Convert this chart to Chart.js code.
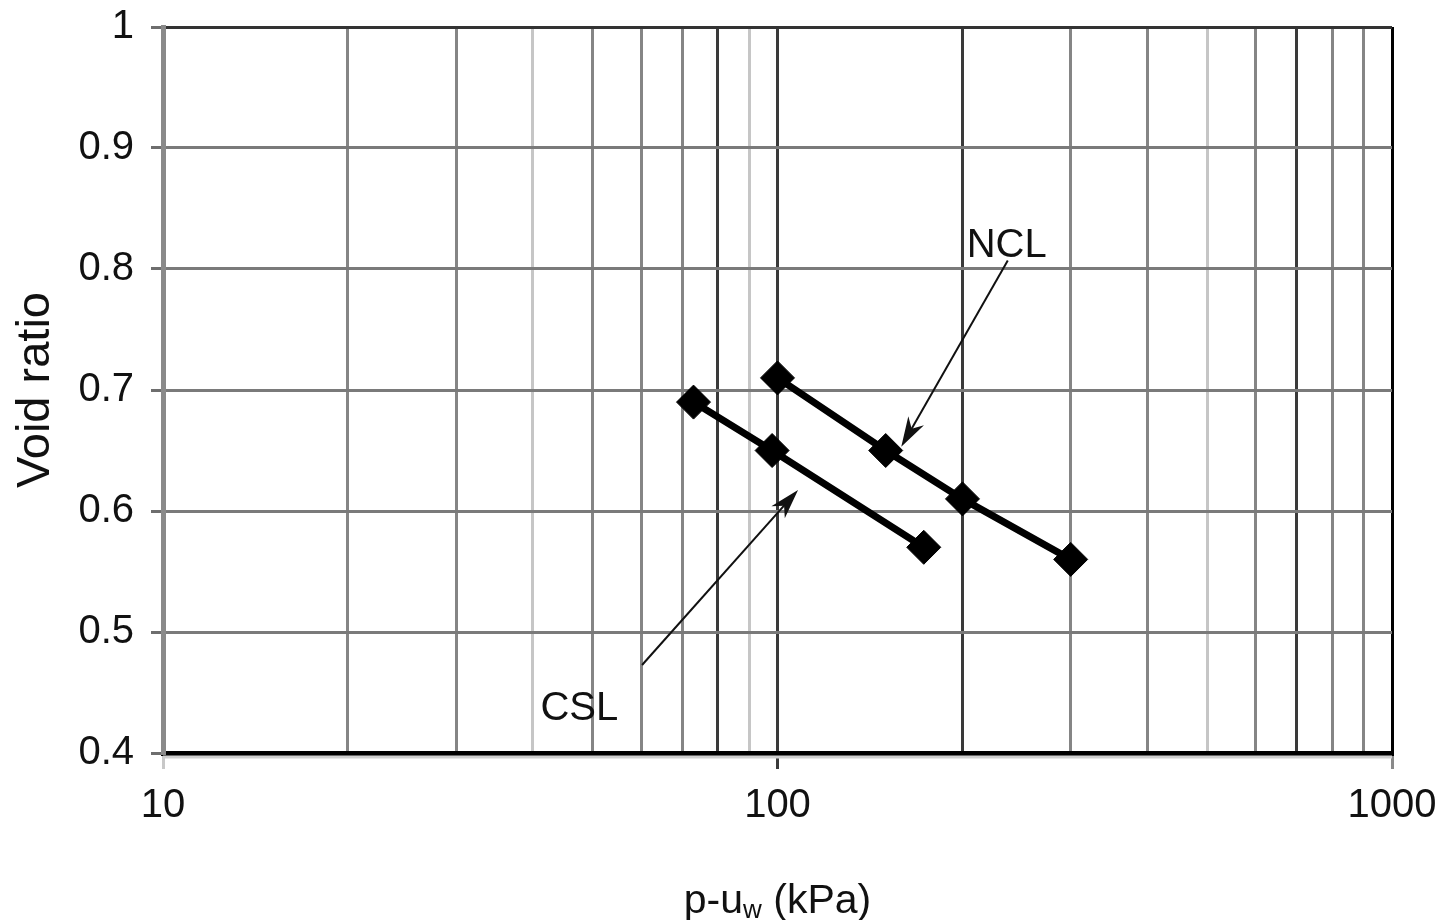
<!DOCTYPE html>
<html lang="en">
<head>
    <meta charset="UTF-8">
    <title>Void ratio vs p-uw</title>
    <script src="https://cdn.jsdelivr.net/npm/chart.js"></script>
    <style>
        html, body { margin: 0; padding: 0; background: #fff; }
        #wrap { width: 1447px; height: 920px; }
    </style>
</head>
<body>
    <div id="wrap"><canvas id="voidChart" width="1447" height="920"></canvas></div>

    <script>
        // data
        const nclPressure = [100, 150, 200, 300];
        const nclVoid = [0.71, 0.65, 0.61, 0.56];
        const cslPressure = [73, 98, 173];
        const cslVoid = [0.69, 0.65, 0.57];

        const xTicks = [10, 20, 30, 40, 50, 60, 70, 80, 90, 100, 200, 300, 400, 500, 600, 700, 800, 900, 1000];
        const xTickLabels = ["10", "100", "1000"];
        const yTicks = [0.4, 0.5, 0.6, 0.7, 0.8, 0.9, 1];
        const yTickLabels = ["0.4", "0.5", "0.6", "0.7", "0.8", "0.9", "1"];

        // line labels with their arrows (data coordinates)
        const notes = [
            { text: "NCL", at: [236, 0.81], from: [237, 0.807], to: [159, 0.653] },
            { text: "CSL", at: [47.6, 0.4273], from: [60.2, 0.4727], to: [108, 0.6174] }
        ];

        const sans = "'Liberation Sans', Arial, sans-serif";

        // the scanned grid has uneven line darkness
        function gridShade(v) {
            if (v === 1000) return "#000";
            if ([80, 100, 200, 700].includes(v)) return "#3a3a3a";
            if ([40, 90, 500].includes(v)) return "#c6c6c6";
            return "#858585";
        }

        const extras = {
            id: "extras",
            afterDraw(chart) {
                const ctx = chart.ctx;
                const x = chart.scales.x, y = chart.scales.y;
                const area = chart.chartArea;
                ctx.save();

                // light shadow under the bottom axis
                ctx.strokeStyle = "#cfcfcf";
                ctx.lineWidth = 3;
                ctx.beginPath();
                ctx.moveTo(area.left, area.bottom + 4);
                ctx.lineTo(area.right, area.bottom + 4);
                ctx.stroke();

                // x axis title with subscript
                const cx = (area.left + area.right) / 2;
                const base = 913;
                const parts = [
                    { t: "p-u", size: 41, dy: 0 },
                    { t: "w", size: 26, dy: 5 },
                    { t: " (kPa)", size: 41, dy: 0 }
                ];
                let total = 0;
                parts.forEach(p => {
                    ctx.font = p.size + "px " + sans;
                    p.w = ctx.measureText(p.t).width;
                    total += p.w;
                });
                let px = cx - total / 2;
                ctx.fillStyle = "#111";
                ctx.textBaseline = "alphabetic";
                ctx.textAlign = "left";
                parts.forEach(p => {
                    ctx.font = p.size + "px " + sans;
                    ctx.fillText(p.t, px, base + p.dy);
                    px += p.w;
                });

                // NCL / CSL labels and arrows
                notes.forEach(n => {
                    ctx.font = "40px " + sans;
                    ctx.textAlign = "center";
                    ctx.fillText(n.text, x.getPixelForValue(n.at[0]), y.getPixelForValue(n.at[1]));

                    const x0 = x.getPixelForValue(n.from[0]), y0 = y.getPixelForValue(n.from[1]);
                    const x1 = x.getPixelForValue(n.to[0]), y1 = y.getPixelForValue(n.to[1]);
                    const ang = Math.atan2(y1 - y0, x1 - x0);
                    ctx.strokeStyle = "#111";
                    ctx.lineWidth = 2;
                    ctx.beginPath();
                    ctx.moveTo(x0, y0);
                    ctx.lineTo(x1 - 12 * Math.cos(ang), y1 - 12 * Math.sin(ang));
                    ctx.stroke();

                    // barbed arrow head
                    const len = 30, half = 9;
                    const bx = x1 - len * Math.cos(ang), by = y1 - len * Math.sin(ang);
                    const nx = -Math.sin(ang), ny = Math.cos(ang);
                    const mx = x1 - len * 0.7 * Math.cos(ang), my = y1 - len * 0.7 * Math.sin(ang);
                    ctx.fillStyle = "#111";
                    ctx.beginPath();
                    ctx.moveTo(x1, y1);
                    ctx.lineTo(bx + nx * half, by + ny * half);
                    ctx.lineTo(mx, my);
                    ctx.lineTo(bx - nx * half, by - ny * half);
                    ctx.closePath();
                    ctx.fill();
                });
                ctx.restore();
            }
        };

        const toPoints = (xs, ys) => xs.map((v, i) => ({ x: v, y: ys[i] }));

        new Chart(document.getElementById("voidChart"), {
            type: "line",
            data: {
                datasets: [
                    {
                        label: "NCL",
                        data: toPoints(nclPressure, nclVoid),
                        borderColor: "#000",
                        backgroundColor: "#000",
                        borderWidth: 7,
                        pointStyle: "rectRot",
                        pointRadius: 17,
                        pointBorderWidth: 1,
                        tension: 0
                    },
                    {
                        label: "CSL",
                        data: toPoints(cslPressure, cslVoid),
                        borderColor: "#000",
                        backgroundColor: "#000",
                        borderWidth: 7,
                        pointStyle: "rectRot",
                        pointRadius: 17,
                        pointBorderWidth: 1,
                        tension: 0
                    }
                ]
            },
            options: {
                responsive: false,
                animation: false,
                layout: { autoPadding: false, padding: { top: 27, right: 55, left: 0, bottom: 0 } },
                plugins: {
                    legend: { display: false },
                    tooltip: { enabled: false }
                },
                scales: {
                    x: {
                        type: "logarithmic",
                        min: 10,
                        max: 1000,
                        afterFit: s => {
                            s.height = 167;
                            s.paddingLeft = 0;
                            s.paddingRight = 0;
                        },
                        afterBuildTicks: s => { s.ticks = xTicks.map(v => ({ value: v })); },
                        ticks: {
                            autoSkip: false,
                            maxRotation: 0,
                            padding: 13,
                            color: "#111",
                            font: { family: sans, size: 40, lineHeight: 1.2 },
                            callback: v => xTickLabels.includes(String(v)) ? String(v) : ""
                        },
                        grid: {
                            color: c => c.tick && c.tick.value === 10 ? "#8a8a8a" : gridShade(c.tick ? c.tick.value : 0),
                            lineWidth: 3,
                            tickLength: 16,
                            tickColor: c => {
                                const v = c.tick ? c.tick.value : 0;
                                if (v === 10) return "#c8c8c8";
                                if (v === 100) return "#3a3a3a";
                                if (v === 1000) return "#8a8a8a";
                                return "rgba(0,0,0,0)";
                            }
                        },
                        border: { color: "#000", width: 5 }
                    },
                    y: {
                        type: "linear",
                        min: 0.4,
                        max: 1,
                        afterFit: s => {
                            s.width = 163;
                            s.paddingTop = 0;
                            s.paddingBottom = 0;
                        },
                        afterBuildTicks: s => { s.ticks = yTicks.map(v => ({ value: v })); },
                        title: {
                            display: true,
                            text: "Void ratio",
                            color: "#111",
                            font: { family: sans, size: 47 },
                            padding: { top: 8, bottom: 0 }
                        },
                        ticks: {
                            padding: 17,
                            color: "#111",
                            font: { family: sans, size: 40, lineHeight: 1.2 },
                            callback: (v, i) => yTickLabels[i]
                        },
                        grid: {
                            color: c => {
                                const v = c.tick ? c.tick.value : 0;
                                if (v === 1) return "#333";
                                if (v === 0.4) return "#000";
                                return "#7a7a7a";
                            },
                            lineWidth: 3,
                            tickLength: 12,
                            tickColor: "#6e6e6e"
                        },
                        border: { color: "#8a8a8a", width: 5 }
                    }
                }
            },
            plugins: [extras]
        });
    </script>
</body>
</html>
